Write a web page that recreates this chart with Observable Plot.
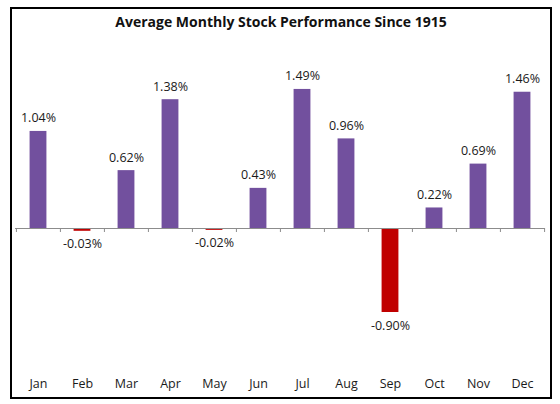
<!DOCTYPE html>
<html>
<head>
<meta charset="utf-8">
<script src="https://cdn.jsdelivr.net/npm/d3@7"></script>
<script src="https://cdn.jsdelivr.net/npm/@observablehq/plot@0.6"></script>
<style>
  html, body { margin: 0; padding: 0; background: #fff; }
  #wrap { position: relative; width: 560px; height: 404px; overflow: hidden; font-family: "Open Sans", "Liberation Sans", sans-serif; }
  #frame { position: absolute; left: 10px; top: 7px; width: 538px; height: 388px; border: 2px solid #000; box-sizing: content-box; }
  #title { position: absolute; left: 11px; width: 540px; top: 12px; text-align: center; font-size: 14px; font-weight: bold; color: #111; }
  #chart { position: absolute; left: 0; top: 0; }
</style>
</head>
<body>
<div id="wrap">
  <div id="frame"></div>
  <div id="chart"></div>
  <div id="title">Average Monthly Stock Performance Since 1915</div>
</div>
<script>
const months = ["Jan","Feb","Mar","Apr","May","Jun","Jul","Aug","Sep","Oct","Nov","Dec"];
const values = [1.04, -0.03, 0.62, 1.38, -0.02, 0.43, 1.49, 0.96, -0.90, 0.22, 0.69, 1.46];
const labels = ["1.04%","-0.03%","0.62%","1.38%","-0.02%","0.43%","1.49%","0.96%","-0.90%","0.22%","0.69%","1.46%"];

const data = months.map((m, i) => ({month: m, value: values[i], label: labels[i]}));
const pos = data.filter(d => d.value >= 0);
const neg = data.filter(d => d.value < 0);
const W = 560, ml = 15, mr = 15;
const band = (W - ml - mr) / months.length;
const barW = 17;
const inset = (band - barW) / 2;

const chart = Plot.plot({
  width: W,
  height: 404,
  marginLeft: ml,
  marginRight: mr,
  marginTop: 88,
  marginBottom: 36,
  style: {fontFamily: "'Open Sans', 'Liberation Sans', sans-serif", fontSize: "12.5px", color: "#111", background: "transparent"},
  x: {type: "band", domain: months, padding: 0, axis: null},
  y: {domain: [-1.5, 1.5], axis: null},
  marks: [
    Plot.barY(data, {x: "month", y: "value", insetLeft: inset, insetRight: inset,
      fill: d => d.value < 0 ? "#C00000" : "#72509E"}),
    Plot.ruleY([0], {stroke: "#8c8c8c", strokeWidth: 1}),
    Plot.ruleX(months, {x: d => d, y1: 0, y2: -0.043, dx: -band / 2, stroke: "#8c8c8c"}),
    Plot.ruleX([months[months.length - 1]], {x: d => d, y1: 0, y2: -0.043, dx: band / 2, stroke: "#8c8c8c"}),
    Plot.text(pos, {x: "month", y: "value", text: "label", dy: -13, fill: "#1a1a1a", fontSize: 12.5}),
    Plot.text(neg, {x: "month", y: "value", text: "label", dy: 13, fill: "#1a1a1a", fontSize: 12.5}),
    Plot.text(months, {x: d => d, frameAnchor: "bottom", dy: 19, text: d => d, fill: "#1a1a1a", fontSize: 12.5})
  ]
});
document.getElementById("chart").appendChild(chart);
</script>
</body>
</html>
